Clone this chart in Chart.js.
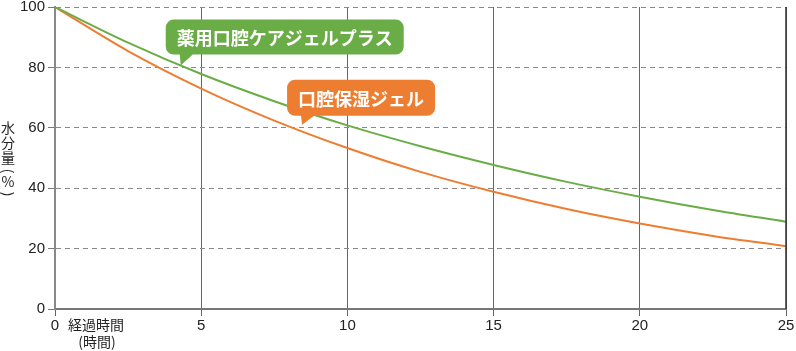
<!DOCTYPE html>
<html>
<head>
<meta charset="utf-8">
<script src="https://cdn.jsdelivr.net/npm/chart.js@4/dist/chart.umd.min.js"></script>
<style>
html,body{margin:0;padding:0;background:#fff;}
#wrap{position:relative;width:796px;height:351px;}
</style>
</head>
<body>
<div id="wrap"><canvas id="c" width="796" height="351"></canvas></div>
<script>
// ---- data ----
const hours = [0, 2.5, 5, 7.5, 10, 12.5, 15, 17.5, 20, 22.5, 25];
const plusValues = [100, 88.2, 77.8, 68.8, 60.8, 53.9, 47.7, 42.1, 37.2, 32.8, 28.9];
const gelValues  = [100, 85.4, 73.0, 62.4, 53.3, 45.4, 38.8, 33.1, 28.3, 24.2, 20.8];
const seriesNames = ['薬用口腔ケアジェルプラス', '口腔保湿ジェル'];
const xTicks = [0, 5, 10, 15, 20, 25];
const yTicks = [0, 20, 40, 60, 80, 100];
const yTitleChars = ['水', '分', '量', '(', '%', ')'];
const xTitle = ['経過時間', '(時間)'];

const GREEN = '#6aad46';
const ORANGE = '#ed7d31';
const JP = '"Noto Sans CJK JP", "Noto Sans", sans-serif';
const NUM = '"Liberation Sans", Arial, sans-serif';

// callout anchors (tail tip in data coordinates)
const callouts = [
  { text: seriesNames[0], color: GREEN, tip: { x: 4.3, y: 80.6 }, dx: -15, dy: -46, h: 35 },
  { text: seriesNames[1], color: ORANGE, tip: { x: 8.45, y: 61.0 }, dx: -15, dy: -45, h: 36 }
];

const toPts = (vals) => hours.map((h, i) => ({ x: h, y: vals[i] }));

const annotPlugin = {
  id: 'annot',
  afterDatasetsDraw(chart) {
    const { ctx, scales: { x, y }, chartArea } = chart;
    ctx.save();
    // right border line
    ctx.strokeStyle = '#333';
    ctx.lineWidth = 1.5;
    ctx.beginPath();
    ctx.moveTo(chartArea.right, chartArea.top);
    ctx.lineTo(chartArea.right, chartArea.bottom);
    ctx.stroke();

    // callouts
    ctx.font = 'bold 18px ' + JP;
    callouts.forEach(c => {
      const tx = x.getPixelForValue(c.tip.x);
      const ty = y.getPixelForValue(c.tip.y);
      const tw = ctx.measureText(c.text).width;
      const w = tw + 22;
      const left = tx + c.dx, top = ty + c.dy, h = c.h, r = 8;
      ctx.fillStyle = c.color;
      ctx.beginPath();
      ctx.moveTo(left + r, top);
      ctx.lineTo(left + w - r, top);
      ctx.arcTo(left + w, top, left + w, top + r, r);
      ctx.lineTo(left + w, top + h - r);
      ctx.arcTo(left + w, top + h, left + w - r, top + h, r);
      ctx.lineTo(tx + 12, top + h);
      ctx.lineTo(tx, ty);
      ctx.lineTo(tx - 1, top + h);
      ctx.lineTo(left + r, top + h);
      ctx.arcTo(left, top + h, left, top + h - r, r);
      ctx.lineTo(left, top + r);
      ctx.arcTo(left, top, left + r, top, r);
      ctx.closePath();
      ctx.fill();
      ctx.fillStyle = '#fff';
      ctx.textAlign = 'center';
      ctx.textBaseline = 'middle';
      ctx.fillText(c.text, left + w / 2, top + h / 2 + 1);
    });

    // y axis title (vertical stacked, parentheses rotated)
    ctx.fillStyle = '#222';
    ctx.font = '14px ' + JP;
    ctx.textAlign = 'center';
    ctx.textBaseline = 'middle';
    const ys = [128, 143, 158, 171, 182, 194];
    yTitleChars.forEach((ch, i) => {
      if (ch === '(' || ch === ')') {
        ctx.save();
        ctx.translate(8, ys[i]);
        ctx.rotate(Math.PI / 2);
        ctx.fillText(ch, 0, 0);
        ctx.restore();
      } else {
        ctx.fillText(ch, 8, ys[i]);
      }
    });

    // x axis title
    ctx.font = '14px ' + JP;
    ctx.textAlign = 'left';
    ctx.fillText(xTitle[0], 68, 325);
    ctx.textAlign = 'center';
    ctx.fillText(xTitle[1], 97, 342);
    ctx.restore();
  }
};

new Chart(document.getElementById('c'), {
  type: 'line',
  data: {
    datasets: [
      { label: seriesNames[0], data: toPts(plusValues), borderColor: GREEN, borderWidth: 2, pointRadius: 0, cubicInterpolationMode: 'monotone', fill: false },
      { label: seriesNames[1], data: toPts(gelValues), borderColor: ORANGE, borderWidth: 2, pointRadius: 0, cubicInterpolationMode: 'monotone', fill: false }
    ]
  },
  options: {
    responsive: false,
    animation: false,
    events: [],
    layout: { padding: { top: 7, right: 10, left: 0, bottom: 0 } },
    plugins: { legend: { display: false }, tooltip: { enabled: false } },
    scales: {
      x: {
        type: 'linear', min: 0, max: 25,
        afterBuildTicks: (s) => { s.ticks = xTicks.map(v => ({ value: v })); },
        afterFit: (s) => { s.height = 42; s.paddingLeft = 0; s.paddingRight = 0; },
        ticks: { color: '#222', font: { family: NUM, size: 15 }, padding: 1, maxRotation: 0 },
        grid: { color: '#666', lineWidth: 1, tickLength: 7, tickColor: '#666' },
        border: { display: true, color: '#777', width: 2 }
      },
      y: {
        min: 0, max: 100,
        afterBuildTicks: (s) => { s.ticks = yTicks.map(v => ({ value: v })); },
        afterFit: (s) => { s.width = 55; s.paddingTop = 0; s.paddingBottom = 0; },
        ticks: { color: '#222', font: { family: NUM, size: 15 }, padding: 3 },
        grid: { color: '#888', lineWidth: 1, tickLength: 7, tickColor: '#777' },
        border: { display: true, color: '#888', width: 2, dash: [5, 4] }
      }
    }
  },
  plugins: [annotPlugin]
});
</script>
</body>
</html>
